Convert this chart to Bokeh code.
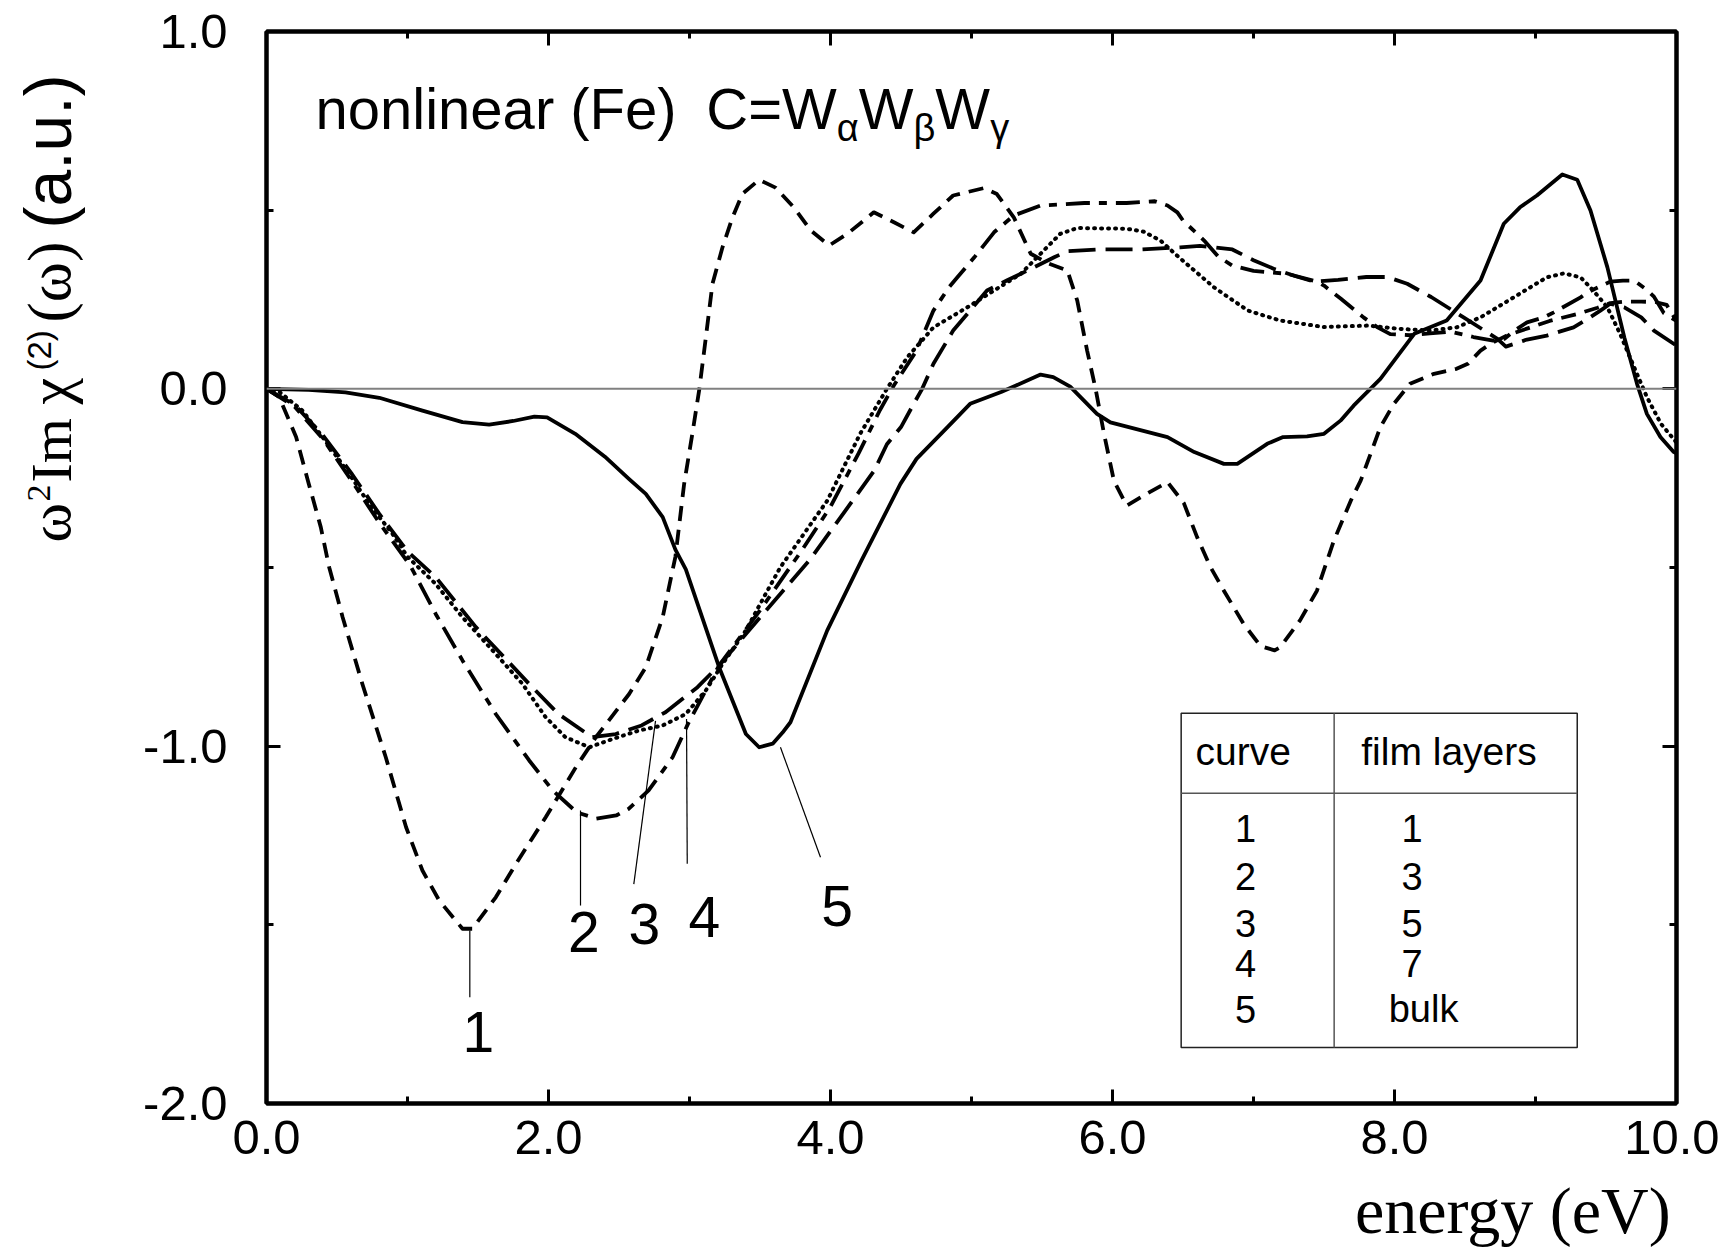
import numpy as np
from bokeh.plotting import figure
from bokeh.layouts import row, column
from bokeh.models import (Range1d, LinearAxis, SingleIntervalTicker, PrintfTickFormatter,
                          Span, CustomJSTickFormatter)
from bokeh.core.properties import value
from bokeh.embed import file_html
from bokeh.resources import INLINE

# ---------------- data ----------------
c1_x = [0, 0.09, 0.21, 0.30, 0.385, 0.445, 0.54, 0.68, 0.846, 0.99, 1.106, 1.225, 1.39, 1.46,
        1.626, 1.768, 1.98, 2.194, 2.336, 2.572, 2.69, 2.81, 2.90, 2.962, 3.02, 3.07, 3.116,
        3.163, 3.234, 3.305, 3.376, 3.494, 3.61, 3.74, 3.86, 3.99, 4.12, 4.307, 4.45, 4.59,
        4.73, 4.87, 5.09, 5.18, 5.30, 5.42, 5.55, 5.68, 5.75, 5.82, 5.88, 5.94, 6.01, 6.10,
        6.246, 6.39, 6.506, 6.60, 6.695, 6.79, 6.93, 7.05, 7.15, 7.19, 7.33, 7.45, 7.57, 7.69,
        7.76, 7.90, 7.995, 8.11, 8.28, 8.44, 8.52, 8.61, 8.68, 8.8, 8.95, 9.1, 9.3, 9.44,
        9.53, 9.63, 9.75, 9.85, 9.93, 10.0]
c1_y = [0, -0.023, -0.135, -0.266, -0.387, -0.50, -0.639, -0.826, -1.031, -1.227, -1.348,
        -1.432, -1.511, -1.511, -1.423, -1.33, -1.199, -1.059, -0.975, -0.854, -0.779, -0.639,
        -0.47, -0.266, -0.126, 0.0, 0.144, 0.294, 0.396, 0.48, 0.546, 0.585, 0.563, 0.508,
        0.443, 0.401, 0.434, 0.494, 0.466, 0.438, 0.49, 0.541, 0.562, 0.545, 0.48, 0.378,
        0.35, 0.331, 0.247, 0.107, 0.0, -0.126, -0.257, -0.327, -0.293, -0.261, -0.32, -0.415,
        -0.499, -0.565, -0.658, -0.72, -0.732, -0.723, -0.648, -0.565, -0.425, -0.313,
        -0.257, -0.107, -0.042, 0.014, 0.042, 0.056, 0.07, 0.107, 0.126, 0.15, 0.17, 0.19,
        0.21, 0.227, 0.24, 0.244, 0.244, 0.243, 0.235, 0.19]

c2_x = [0, 0.2, 0.4, 0.6, 0.8, 1.02, 1.2, 1.39, 1.626, 1.863, 2.03, 2.2, 2.34, 2.48, 2.57,
        2.71, 2.88, 2.99, 3.09, 3.21, 3.5, 3.8, 4.0, 4.2, 4.35, 4.45, 4.61, 4.73, 4.84, 4.90,
        5.02, 5.16, 5.30, 5.49, 5.8, 6.1, 6.3, 6.39, 6.46, 6.5, 6.65, 6.75, 6.85, 7.0, 7.24,
        7.45, 7.5, 7.62, 7.78, 7.88, 7.97, 8.11, 8.25, 8.4, 8.56, 8.7, 8.78, 8.85, 8.94, 9.06,
        9.13, 9.32, 9.37, 9.45, 9.53, 9.62, 9.70, 9.79, 9.84, 9.91, 10.0]
c2_y = [0, -0.05, -0.14, -0.255, -0.375, -0.495, -0.63, -0.76, -0.91, -1.04, -1.124, -1.185,
        -1.203, -1.194, -1.175, -1.124, -1.031, -0.937, -0.863, -0.774, -0.62, -0.45, -0.33,
        -0.18, -0.06, 0.01, 0.107, 0.219, 0.284, 0.312, 0.368, 0.438, 0.485, 0.513, 0.52,
        0.52, 0.525, 0.513, 0.494, 0.471, 0.415, 0.37, 0.345, 0.33, 0.322, 0.30, 0.289, 0.252,
        0.2, 0.172, 0.153, 0.15, 0.155, 0.16, 0.145, 0.135, 0.14, 0.163, 0.186, 0.2, 0.214,
        0.256, 0.27, 0.285, 0.30, 0.303, 0.303, 0.277, 0.258, 0.212, 0.19]

c3_x = [0, 0.2, 0.4, 0.6, 0.8, 1.0, 1.2, 1.485, 1.863, 2.07, 2.31, 2.477, 2.66, 2.83, 3.057,
        3.21, 3.5, 3.85, 4.19, 4.31, 4.40, 4.50, 4.59, 4.65, 4.73, 4.87, 4.99, 5.11, 5.25,
        5.35, 5.59, 5.68, 5.9, 6.2, 6.48, 6.62, 6.72, 6.85, 7.0, 7.15, 7.3, 7.43, 7.6, 7.8,
        7.95, 8.09, 8.26, 8.49, 8.73, 8.79, 8.94, 9.08, 9.27, 9.37, 9.46, 9.53, 9.63, 9.75,
        9.84, 10.0]
c3_y = [0, -0.045, -0.13, -0.235, -0.35, -0.455, -0.527, -0.667, -0.826, -0.91, -0.975,
        -0.966, -0.942, -0.905, -0.835, -0.774, -0.64, -0.48, -0.295, -0.229, -0.155, -0.107,
        -0.042, 0.0, 0.07, 0.163, 0.219, 0.275, 0.303, 0.322, 0.369, 0.385, 0.39, 0.39, 0.396,
        0.4, 0.396, 0.39, 0.36, 0.335, 0.315, 0.30, 0.305, 0.313, 0.313, 0.294, 0.257, 0.2,
        0.14, 0.118, 0.138, 0.149, 0.172, 0.196, 0.219, 0.238, 0.228, 0.2, 0.163, 0.121]

c4_x = [0, 0.08, 0.255, 0.397, 0.587, 0.728, 0.894, 1.0, 1.2, 1.39, 1.626, 1.816, 1.98, 2.12,
        2.29, 2.454, 2.643, 2.81, 2.974, 3.116, 3.234, 3.40, 3.54, 3.645, 3.977, 4.21, 4.40,
        4.544, 4.73, 4.97, 5.16, 5.35, 5.49, 5.63, 5.75, 6.10, 6.22, 6.34, 6.48, 6.72, 6.96,
        7.19, 7.5, 7.81, 8.03, 8.25, 8.44, 8.61, 8.85, 9.08, 9.2, 9.32, 9.41, 9.51, 9.6, 9.70,
        9.79, 9.89, 10.0]
c4_y = [0, -0.005, -0.061, -0.135, -0.238, -0.322, -0.406, -0.47, -0.546, -0.639, -0.742,
        -0.826, -0.919, -0.975, -1.003, -0.98, -0.956, -0.942, -0.91, -0.844, -0.77, -0.676,
        -0.574, -0.499, -0.313, -0.126, 0.0, 0.088, 0.172, 0.228, 0.275, 0.322, 0.378, 0.434,
        0.45, 0.448, 0.44, 0.415, 0.365, 0.284, 0.219, 0.191, 0.173, 0.177, 0.168, 0.163,
        0.172, 0.2, 0.257, 0.312, 0.323, 0.312, 0.275, 0.228, 0.154, 0.06, -0.023, -0.098,
        -0.15]

c5_x = [0, 0.3, 0.56, 0.80, 1.106, 1.39, 1.579, 1.75, 1.90, 1.99, 2.19, 2.4, 2.57, 2.69, 2.81,
        2.90, 2.974, 3.21, 3.40, 3.494, 3.59, 3.66, 3.716, 3.977, 4.22, 4.496, 4.61, 4.83,
        4.99, 5.21, 5.32, 5.49, 5.58, 5.70, 5.89, 5.985, 6.39, 6.58, 6.79, 6.885, 7.097, 7.21,
        7.38, 7.50, 7.617, 7.71, 7.90, 8.14, 8.37, 8.49, 8.61, 8.775, 8.89, 9.01, 9.19, 9.296,
        9.39, 9.51, 9.63, 9.72, 9.79, 9.886, 9.98, 10.0]
c5_y = [0, -0.003, -0.01, -0.025, -0.061, -0.093, -0.10, -0.09, -0.078, -0.08, -0.126, -0.19,
        -0.252, -0.294, -0.359, -0.45, -0.505, -0.779, -0.966, -1.003, -0.993, -0.962, -0.933,
        -0.676, -0.48, -0.266, -0.196, -0.107, -0.042, -0.009, 0.01, 0.04, 0.033, 0.006,
        -0.07, -0.094, -0.135, -0.177, -0.21, -0.21, -0.154, -0.135, -0.133, -0.126, -0.089,
        -0.047, 0.028, 0.154, 0.191, 0.247, 0.303, 0.462, 0.508, 0.541, 0.60, 0.585, 0.499,
        0.34, 0.144, 0.014, -0.07, -0.135, -0.177, -0.18]

curve_ids = ["1", "2", "3", "4", "5"]
film_layers = ["1", "3", "5", "7", "bulk"]
x_ticks_interval = 2
y_ticks_interval = 1

# ---------------- geometry (page pixels) ----------------
TOTAL_W, TOTAL_H = 1719, 1249
LWID = 110                     # width of the strip that carries the y title
FRAME_L, FRAME_T, FRAME_W, FRAME_H = 266, 31, 1410, 1072
MAIN_H = 1175
MAIN_W = TOTAL_W - LWID
XLAB_H = TOTAL_H - MAIN_H
MID = 0.37                     # "middle" anchor sits this many em above the baseline

# ---------------- main figure ----------------
p = figure(width=MAIN_W, height=MAIN_H, output_backend="svg", toolbar_location=None,
           x_range=Range1d(0, 10), y_range=Range1d(-2, 1),
           x_axis_location=None, y_axis_location=None,
           min_border_left=FRAME_L - LWID, min_border_right=MAIN_W - (FRAME_L - LWID) - FRAME_W,
           min_border_top=FRAME_T, min_border_bottom=MAIN_H - FRAME_T - FRAME_H)
p.grid.visible = False
p.outline_line_color = "black"
p.outline_line_width = 4
p.background_fill_color = "white"
p.border_fill_color = "white"

px_y = FRAME_H / 3.0
def ydata(page_y):
    return 1 - (page_y - FRAME_T) / px_y


def axis(ticker, labels=True):
    ax = LinearAxis(ticker=ticker,
                    major_tick_in=14, major_tick_out=0, minor_tick_in=7, minor_tick_out=0,
                    axis_line_width=4, major_tick_line_width=3, minor_tick_line_width=3,
                    axis_line_color="black", major_tick_line_color="black",
                    minor_tick_line_color="black")
    if labels:
        ax.formatter = PrintfTickFormatter(format="%.1f")
        ax.major_label_text_font = "Liberation Sans"
        ax.major_label_text_font_size = "49px"
        ax.major_label_text_color = "black"
    else:
        ax.formatter = CustomJSTickFormatter(code="return ''")
        ax.major_label_text_font_size = "0px"
        ax.major_label_standoff = 0
    return ax

xb = axis(SingleIntervalTicker(interval=x_ticks_interval, num_minor_ticks=2))
xb.major_label_standoff = 17
p.add_layout(xb, "below")
p.add_layout(axis(SingleIntervalTicker(interval=x_ticks_interval, num_minor_ticks=2), False), "above")
yl = axis(SingleIntervalTicker(interval=y_ticks_interval, num_minor_ticks=2))
yl.major_label_standoff = 39
p.add_layout(yl, "left")
p.add_layout(axis(SingleIntervalTicker(interval=y_ticks_interval, num_minor_ticks=2), False), "right")

p.add_layout(Span(location=0, dimension="width", line_color="#808080", line_width=2))

# ---------------- curves ----------------
LW = 3.8
p.line(c1_x, c1_y, line_color="black", line_width=LW, line_dash="15 9", line_join="round")
p.line(c2_x, c2_y, line_color="black", line_width=LW, line_dash="24 9 8 9", line_join="round")
p.line(c3_x, c3_y, line_color="black", line_width=LW, line_dash="27 10", line_join="round")
p.line(c4_x, c4_y, line_color="black", line_width=4, line_dash="1 6", line_cap="round",
       line_join="round")
p.line(c5_x, c5_y, line_color="black", line_width=LW, line_join="round")

# ---------------- curve labels with leader lines ----------------
lead_x0 = [1.442, 2.227, 2.759, 2.979, 3.645]
lead_y0 = [-1.516, -1.18, -0.929, -0.924, -1.003]
lead_x1 = [1.442, 2.227, 2.605, 2.984, 3.929]
lead_y1 = [-1.703, -1.446, -1.386, -1.329, -1.311]
p.segment(lead_x0, lead_y0, lead_x1, lead_y1, line_color="black", line_width=1.2)
lab_x = [1.503, 2.25, 2.68, 3.106, 4.047]
lab_y = [-1.799, -1.521, -1.497, -1.479, -1.446]
p.text(lab_x, lab_y, text=curve_ids, text_font=value("Liberation Sans"),
       text_font_size="57px", text_align="center", text_baseline="middle", text_color="black")

# ---------------- legend table ----------------
tb_l, tb_r, tb_t, tb_b = 6.487, 9.296, -0.908, -1.843
tb_mid, tb_hd = 7.572, -1.132
p.quad(left=[tb_l], right=[tb_r], top=[tb_t], bottom=[tb_b], fill_color=None,
       line_color="#222222", line_width=1.5)
p.segment([tb_mid, tb_l], [tb_t, tb_hd], [tb_mid, tb_r], [tb_b, tb_hd],
          line_color="#555555", line_width=1.5)
hdr_y = ydata(765 - MID * 39)
p.text([6.589, 7.764], [hdr_y, hdr_y], text=["curve", "film layers"],
       text_font=value("Liberation Sans"), text_font_size="39px", text_align="left",
       text_baseline="middle", text_color="black")
row_base = [841.7, 890.0, 936.7, 977.0, 1023.0]
row_y = [ydata(b - MID * 38) for b in row_base]
p.text([6.943] * 5, row_y, text=curve_ids, text_font=value("Liberation Sans"),
       text_font_size="38px", text_align="center", text_baseline="middle", text_color="black")
p.text([8.125, 8.125, 8.125, 8.125, 8.206], row_y, text=film_layers,
       text_font=value("Liberation Sans"), text_font_size="38px", text_align="center",
       text_baseline="middle", text_color="black")

# ---------------- title inside plot ----------------
S, s = 58, 38
tx, ty = 0.348, ydata(129 - MID * S)
sub_drop = 13 + MID * S - MID * s
pieces = ["nonlinear (Fe)", "C=W", "α", "W", "β", "W", "γ"]
offs = [0, 390.7, 521.2, 543.2, 598.0, 619.8, 674.6]
sizes = [f"{S}px", f"{S}px", f"{s}px", f"{S}px", f"{s}px", f"{S}px", f"{s}px"]
yoffs = [0, 0, sub_drop, 0, sub_drop, 0, sub_drop]
p.text(x=[tx] * 7, y=[ty] * 7, text=pieces, x_offset=offs, y_offset=yoffs,
       text_font=value("Liberation Sans"), text_font_size=sizes, text_align="left",
       text_baseline="middle", text_color="black")

# ---------------- y title strip ----------------
yf = figure(width=LWID, height=TOTAL_H, output_backend="svg", toolbar_location=None,
            x_range=Range1d(0, LWID), y_range=Range1d(0, TOTAL_H),
            x_axis_location=None, y_axis_location=None, min_border=0)
yf.grid.visible = False
yf.outline_line_color = None
yf.background_fill_color = "white"
yf.border_fill_color = "white"

BASE_X, SUP_BASE_X = 72, 51
# (text, font, size, page y where the text starts (its lower end), superscript?)
y_pieces = [("ω", "Liberation Serif", 60, 542, False),
            ("2", "Liberation Serif", 34, 501, True),
            ("Im", "Liberation Serif", 58, 482, False),
            ("χ", "Liberation Serif", 60, 404, False),
            ("(2)", "Liberation Sans", 33, 370, True),
            ("(ω)", "Liberation Serif", 61, 322, False),
            ("(a.u.)", "Liberation Sans", 66, 228, False)]
for txt, fnt, sz, start, sup in y_pieces:
    bx = SUP_BASE_X if sup else BASE_X
    yf.text(x=[bx - MID * sz], y=[TOTAL_H - start], text=[txt], angle=np.pi / 2,
            text_font=value(fnt), text_font_size=f"{sz}px", text_align="left",
            text_baseline="middle", text_color="black")

# ---------------- x title strip ----------------
xf = figure(width=MAIN_W, height=XLAB_H, output_backend="svg", toolbar_location=None,
            x_range=Range1d(0, MAIN_W), y_range=Range1d(0, XLAB_H),
            x_axis_location=None, y_axis_location=None, min_border=0)
xf.grid.visible = False
xf.outline_line_color = None
xf.background_fill_color = "white"
xf.border_fill_color = "white"
XS = 66
xf.text(x=[1352 - LWID], y=[TOTAL_H - (1234 - MID * XS)], text=["energy (eV)"],
        text_font=value("Liberation Serif"), text_font_size=f"{XS}px", text_align="left",
        text_baseline="middle", text_color="black")

layout = row(yf, column(p, xf))
open("out.html", "w").write(file_html(layout, INLINE))
